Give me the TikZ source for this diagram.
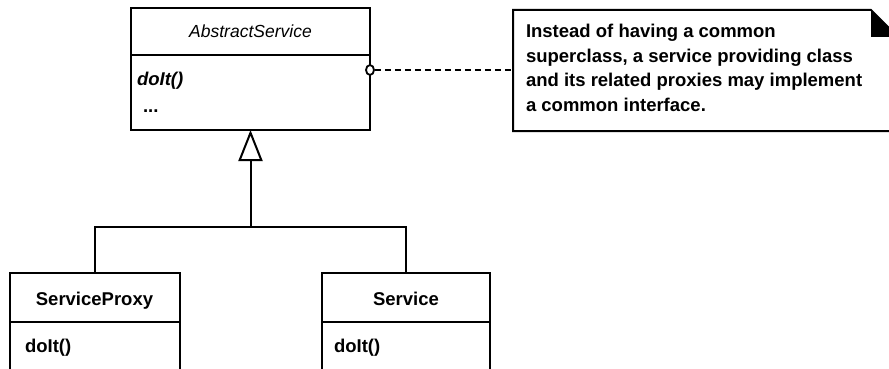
\documentclass[tikz,border=0pt]{standalone}
\usepackage{fontspec}
\setmainfont{Liberation Sans}
\usetikzlibrary{arrows.meta,shapes.geometric}
\begin{document}
\begin{tikzpicture}[x=1pt,y=-1pt,line width=2pt,
  box/.style={draw,rectangle,inner sep=0pt,outer sep=0pt,anchor=north west},
  txt/.style={inner sep=0pt,anchor=base,font=\bfseries\fontsize{18.5}{20}\selectfont},
  ltxt/.style={txt,anchor=base west},
  notetxt/.style={inner sep=0pt,anchor=base west,font=\bfseries\fontsize{18.5}{20}\selectfont},
  gen/.style={-{Triangle[open,length=31pt,width=24pt,line width=2pt]}},
  realize/.style={dash pattern=on 6pt off 4pt}]
\useasboundingbox (0,0) rectangle (889,369);
\clip (0,0) rectangle (889,369);
% AbstractService
\node[box,minimum width=239pt,minimum height=122pt] (abs) at (131,8) {};
\draw (abs.west |- 0,55) -- (abs.east |- 0,55);
\node[txt,font=\itshape\fontsize{17.5}{20}\selectfont] (absname) at (250.5,38) {AbstractService};
\node[ltxt,font=\bfseries\itshape\fontsize{18.5}{20}\selectfont] (absop) at (136,85) {doIt()};
\node[ltxt] (absdots) at (142,112) {...};
% ServiceProxy
\node[box,minimum width=170pt,minimum height=140pt] (proxy) at (9.5,273) {};
\draw (proxy.west |- 0,322) -- (proxy.east |- 0,322);
\node[txt] (proxyname) at (94.5,305) {ServiceProxy};
\node[ltxt] (proxyop) at (24,352) {doIt()};
% Service
\node[box,minimum width=168pt,minimum height=140pt] (svc) at (322,273) {};
\draw (svc.west |- 0,322) -- (svc.east |- 0,322);
\node[txt] (svcname) at (406,305) {Service};
\node[ltxt] (svcop) at (333,352) {doIt()};
% generalization
\coordinate (j) at (abs.south |- 0,227);
\draw (proxy.north) |- (j) -| (svc.north);
\draw[gen] (j) -- (abs.south);
% interface ball and note
\node[draw,fill=white,ellipse,line width=1.8pt,minimum width=8pt,minimum height=10pt,inner sep=0pt] (ball) at (abs.east |- 0,70) {};
\coordinate (nw) at (513,10);
\coordinate (f1) at (871,10);
\coordinate (f2) at (871,37);
\coordinate (f3) at (898,37);
\coordinate (se) at (898,131);
\coordinate (sw) at (513,131);
\draw (nw) -- (f1) -- (f3) -- (se) -- (sw) -- cycle;
\fill (f1) -- (f2) -- (f3) -- cycle;
\draw[realize] (ball.east) -- (ball.east -| nw);
\node[notetxt] (n1) at (525,38) {Instead of having a common};
\node[notetxt] (n2) at (525,62.5) {superclass, a service providing class};
\node[notetxt] (n3) at (525,87) {and its related proxies may implement};
\node[notetxt] (n4) at (525,111.5) {a common interface.};
\end{tikzpicture}
\end{document}
